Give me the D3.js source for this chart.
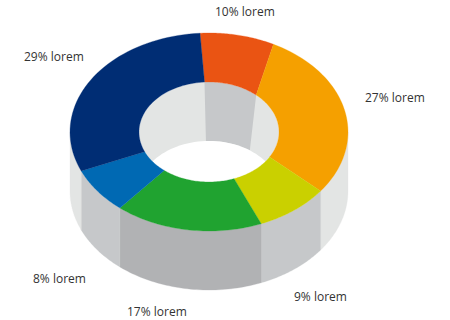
<!DOCTYPE html>
<html><head><meta charset="utf-8">
<style>html,body{margin:0;padding:0;background:#fff}svg{display:block}
text{font-family:"Open Sans",sans-serif;font-size:12px;fill:#333}</style>
<script src="https://cdnjs.cloudflare.com/ajax/libs/d3/7.8.5/d3.min.js"></script>
</head><body><svg id="c" width="450" height="320"></svg>
<script>
const categories = ["10% lorem","27% lorem","9% lorem","17% lorem","8% lorem","29% lorem"];
// Slice shares as drawn (the sketch is not exactly radial)
const outerShares = [8.7,27.5,8.7,17.2,7.5,30.4];
const innerShares = [12.8,21.6,10.8,16.9,7.5,30.4];
const backWallShares = [10.6,89.4];
const topColors = ["#ea5413","#f5a000","#cad000","#20a330","#0069b3","#002d74"];
const wallColors = ["#e3e5e4","#e3e5e4","#c6c8ca","#b1b2b4","#c6c8ca","#e3e5e4"];
const labelX = [215,365,294,127,33,24];
const labelY = [16,102,301,316,283,61];

const svg = d3.select("#c");
const rad = d => d*Math.PI/180;
const start = rad(-3.7);
const pie = d3.pie().sort(null).value(d=>d).startAngle(start).endAngle(start+2*Math.PI);
const outer = pie(outerShares), inner = pie(innerShares);

const cx=209, cy=132, rxO=139, ryO=99, rxI=70, ryI=50, depth=59;
const sx = d3.scaleLinear().domain([-1,1]).range([cx-rxO,cx+rxO]);
const sy = d3.scaleLinear().domain([-1,1]).range([cy-ryO,cy+ryO]);
const ratioX = rxI/rxO, ratioY = ryI/ryO;

const arcPts = (a0,a1,r,dy,n=48) => d3.range(n+1).map(i=>{
  const a=a0+(a1-a0)*i/n;
  return [sx(Math.sin(a)*(r?ratioX:1)), sy(-Math.cos(a)*(r?ratioY:1))+dy];
});
const line = d3.line().curve(d3.curveLinear);
const poly = pts => line(pts)+"Z";

// outer walls: only the front half of the cylinder is visible
const frontFrom = rad(90), frontTo = rad(270);
const walls = outer.map((d,i)=>({a0:Math.max(d.startAngle,frontFrom),a1:Math.min(d.endAngle,frontTo),fill:wallColors[i]}))
  .filter(d=>d.a1>d.a0);
svg.append("g").selectAll("path").data(walls).join("path")
  .attr("d",d=>poly(arcPts(d.a0,d.a1,0,depth).concat(arcPts(d.a1,d.a0,0,0))))
  .attr("fill",d=>d.fill).attr("stroke",d=>d.fill).attr("stroke-width",0.3);

// inner well
const full = [0,2*Math.PI];
const defs = svg.append("defs");
defs.append("clipPath").attr("id","well").append("path").attr("d",poly(arcPts(full[0],full[1],1,0,120)));
const well = svg.append("g").attr("clip-path","url(#well)");
well.append("path").attr("d",poly(arcPts(full[0],full[1],1,0,120))).attr("fill","#e3e5e4");
const backArc = inner[0];
const wallBottom = d3.pie().sort(null).value(d=>d).startAngle(rad(-2.5)).endAngle(rad(-2.5)+2*Math.PI)(backWallShares);
well.append("path")
  .attr("d",poly(arcPts(wallBottom[0].startAngle,wallBottom[0].endAngle,1,depth).concat(arcPts(backArc.endAngle,backArc.startAngle,1,0))))
  .attr("fill","#c6c8ca");
well.append("path").attr("d",poly(arcPts(full[0],full[1],1,depth,120))).attr("fill","#fff");

// top face
svg.append("g").selectAll("path").data(outer).join("path")
  .attr("d",(d,i)=>poly(arcPts(d.startAngle,d.endAngle,0,0).concat(arcPts(inner[i].endAngle,inner[i].startAngle,1,0))))
  .attr("fill",(d,i)=>topColors[i]).attr("stroke",(d,i)=>topColors[i]).attr("stroke-width",0.3);

// labels
svg.append("g").selectAll("text").data(categories).join("text")
  .attr("x",(d,i)=>labelX[i]).attr("y",(d,i)=>labelY[i]).text(d=>d);
</script></body></html>
